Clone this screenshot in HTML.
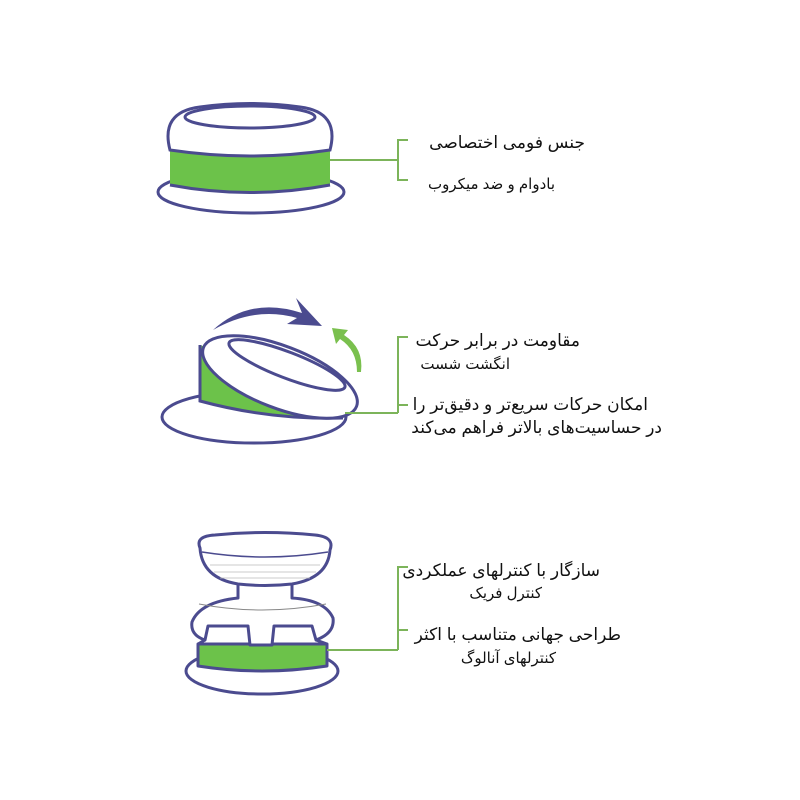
<!DOCTYPE html>
<html><head><meta charset="utf-8"><style>
html,body{margin:0;padding:0;background:#fff;}
svg{display:block}
text{font-family:"Liberation Sans","DejaVu Sans",sans-serif;fill:#111;direction:rtl}
</style></head><body>
<svg width="800" height="800" viewBox="0 0 800 800" xmlns="http://www.w3.org/2000/svg">
<g fill="none" stroke="#4b4b8f" stroke-width="3">
<!-- Diagram 1 -->
<ellipse cx="251" cy="192" rx="93" ry="21" fill="#fff"/>
<path d="M170 148 L170 185 Q250 200 330 185 L330 148 Z" fill="#6cc24a" stroke="none"/>
<path d="M170 185 Q250 200 330 185" />
<path d="M170 150 Q160 112 200 107 Q250 100 300 107 Q340 112 330 150 Q250 162 170 150 Z" fill="#fff"/>
<ellipse cx="250" cy="117" rx="65" ry="11" fill="#fff"/>
</g>
<g stroke="#7cb45a" stroke-width="2" fill="none">
<path d="M330 160 H398 M408 140 H398 V180 H408"/>
</g>
<text x="585" y="148" font-size="17">جنس  فومی اختصاصی</text>
<text x="555" y="189" font-size="15">بادوام و ضد میکروب</text>

<!-- Diagram 2 -->
<g fill="none" stroke="#4b4b8f" stroke-width="3">
<ellipse cx="254" cy="417" rx="92" ry="26" fill="#fff"/>
<path d="M200 345 L200 401 Q270 420 343 418 L345 398 Z" fill="#6cc24a" stroke="none"/>
<path d="M200 345 L200 401 Q270 420 343 418" />
<ellipse cx="280" cy="377" rx="82" ry="31" transform="rotate(21 280 377)" fill="#fff"/>
<ellipse cx="287" cy="365" rx="62" ry="13" transform="rotate(21 287 365)"/>
</g>
<path d="M213 330 Q250 296 302 313 L296 298 L322 326 L287 324 L297 318 Q255 306 213 330 Z" fill="#4b4b8f"/>
<path d="M361 372 Q364 348 344 335 L348 330 L332 328 L336 344 L340 339 Q357 350 357 372 Z" fill="#7ac04e"/>
<g stroke="#7cb45a" stroke-width="2" fill="none">
<path d="M345 413 H398 M408 337 H398 V413 M398 405 H408"/>
</g>
<text x="580" y="346" font-size="17">مقاومت در برابر حرکت</text>
<text x="510" y="369" font-size="15">انگشت شست</text>
<text x="648" y="410" font-size="17">امکان حرکات سریع‌تر و دقیق‌تر را</text>
<text x="662" y="433" font-size="17">در حساسیت‌های بالاتر فراهم می‌کند</text>

<!-- Diagram 3 -->
<g fill="none" stroke="#4b4b8f" stroke-width="3" stroke-linejoin="round">
<ellipse cx="262" cy="671" rx="76" ry="23" fill="#fff"/>
<path d="M198 644 L198 666 Q262 676 327 666 L327 644 Z" fill="#6cc24a"/>
<path d="M238 583 L238 598 Q200 602 192 622 Q190 635 205 640 L208 626 L248 626 L250 645 L272 645 L274 626 L312 626 L316 640 Q335 633 333 618 Q325 600 292 598 L292 583 Z" fill="#fff"/>
<path d="M199 604 Q262 616 326 604" stroke-width="1" stroke="#888"/>
<path d="M205 640 L198 644 M316 640 L327 644" />
<path d="M200 548 Q195 536 215 535 Q265 530 315 535 Q335 537 330 550 Q328 578 292 584 Q265 587 238 584 Q202 578 200 548 Z" fill="#fff"/>
<path d="M202 552 Q265 562 328 552" stroke-width="1.5"/>
</g>
<g stroke="#bbb" stroke-width="0.8"><path d="M210 565 H320 M214 572 H316 M220 578 H310"/></g>
<g stroke="#7cb45a" stroke-width="2" fill="none">
<path d="M327 650 H398 M408 567 H398 V650 M398 630 H408"/>
</g>
<text x="600" y="576" font-size="17">سازگار با کنترلهای عملکردی</text>
<text x="542" y="598" font-size="15">کنترل فریک</text>
<text x="621" y="640" font-size="17">طراحی جهانی متناسب با اکثر</text>
<text x="556" y="663" font-size="15">کنترلهای آنالوگ</text>
</svg>
</body></html>
